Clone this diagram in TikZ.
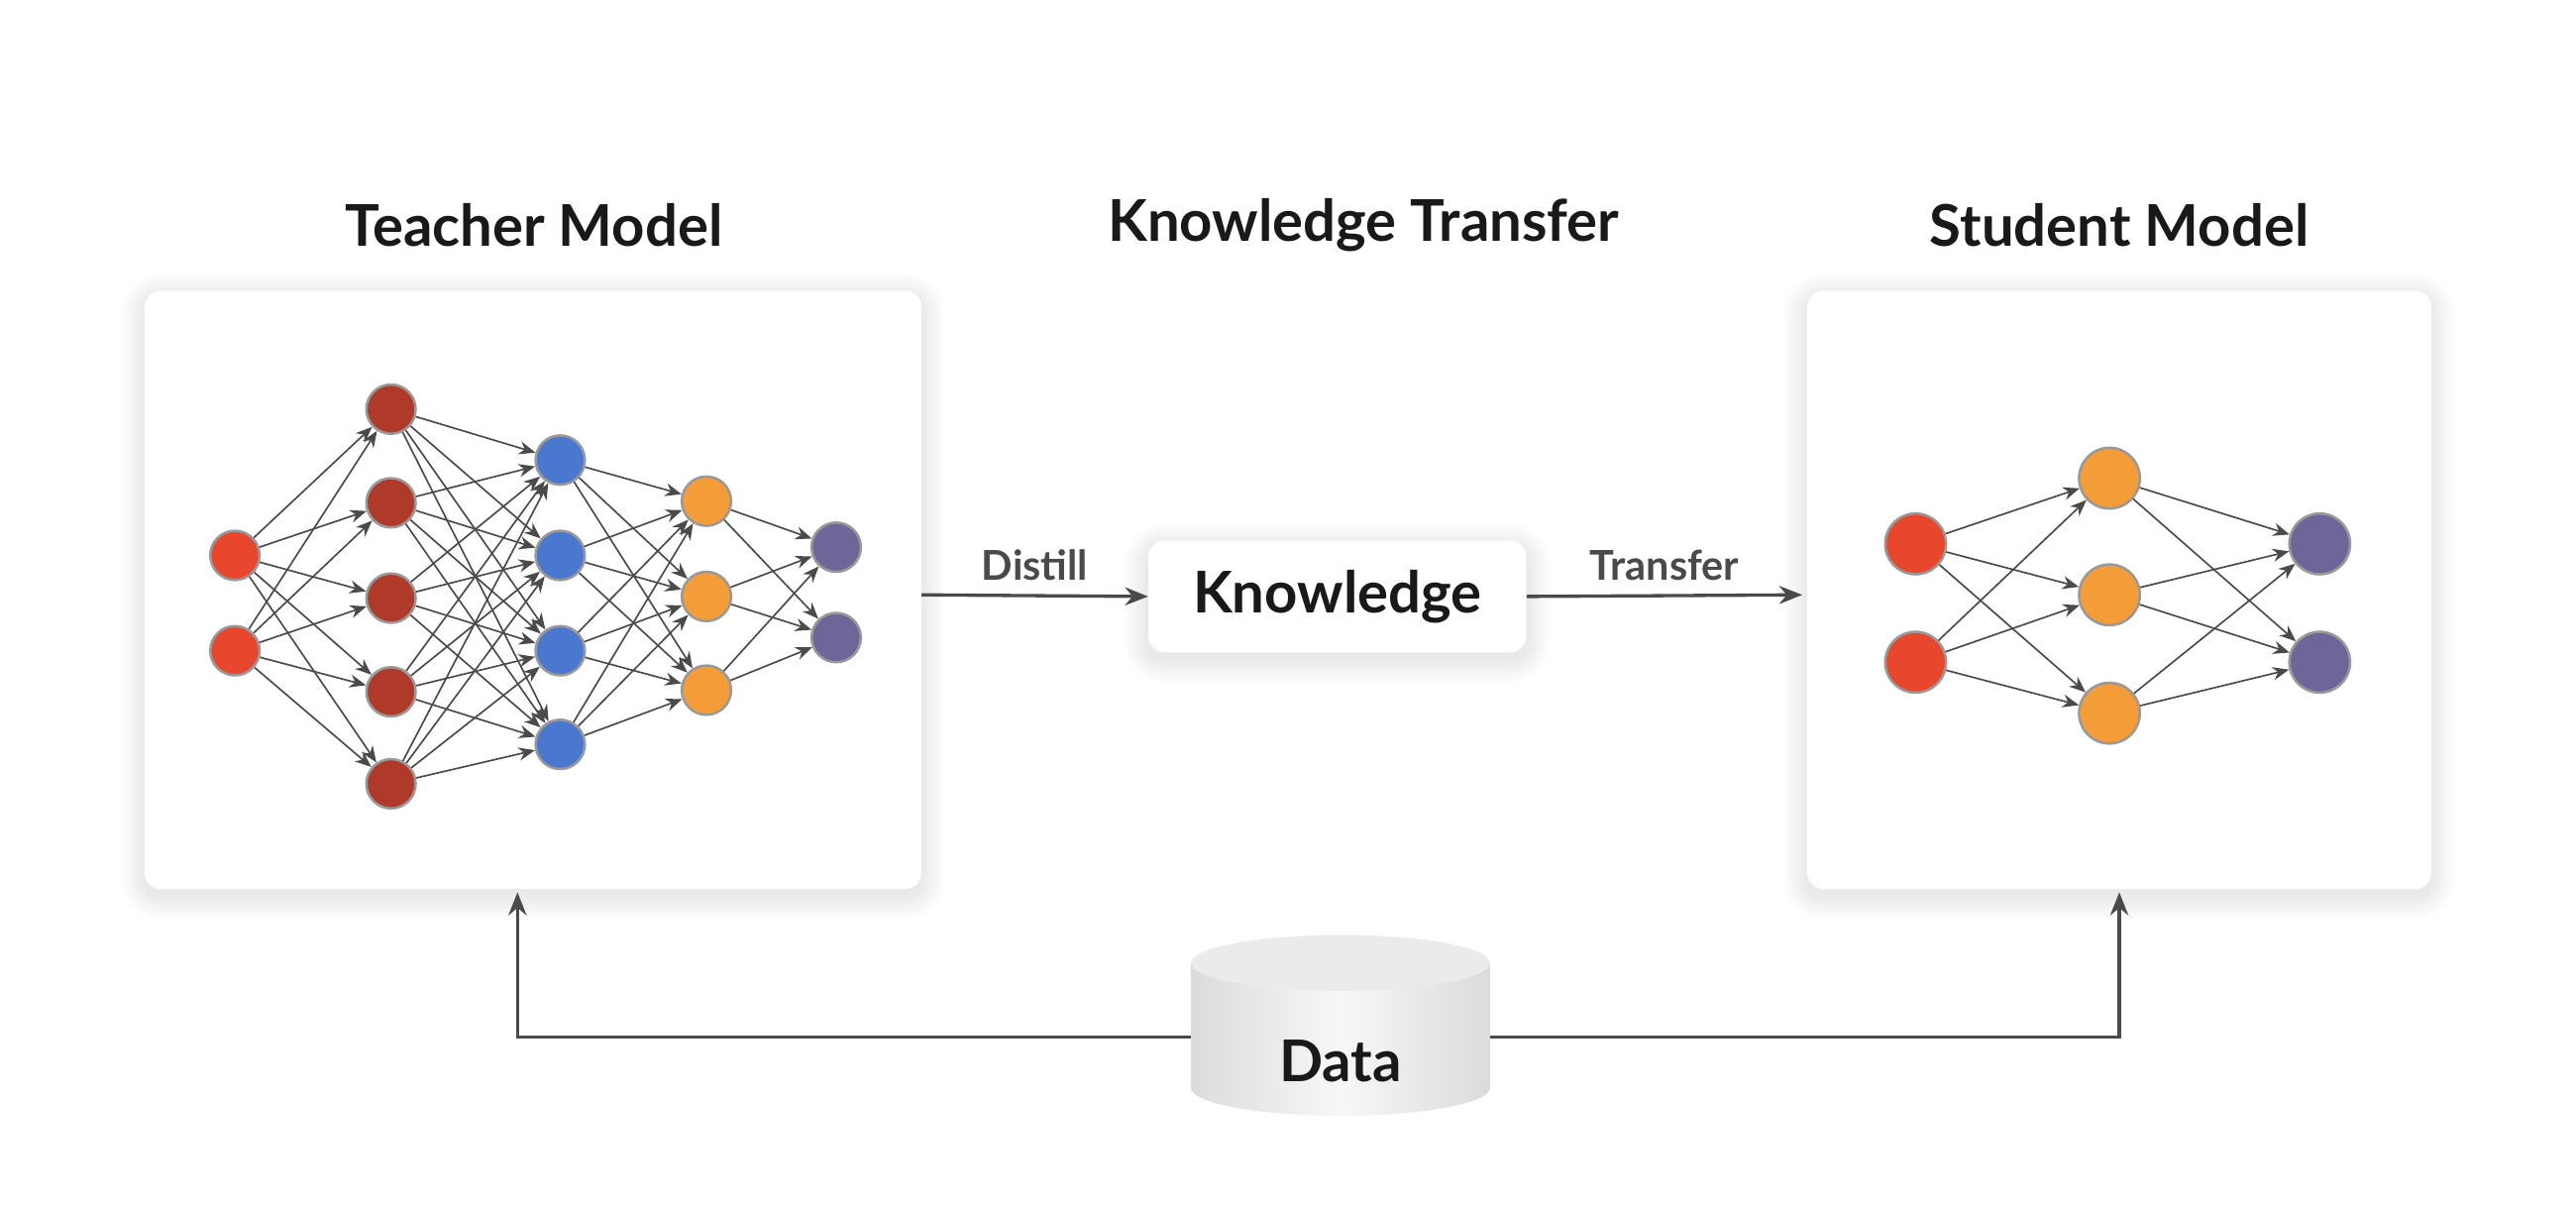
\documentclass[tikz,border=0pt]{standalone}
\usepackage{fontspec}
\setmainfont{Lato}
\usetikzlibrary{calc,arrows.meta}
\definecolor{cin}{HTML}{E8472E}
\definecolor{cdr}{HTML}{B03A2A}
\definecolor{cbl}{HTML}{4A78D0}
\definecolor{cor}{HTML}{F39C38}
\definecolor{cpu}{HTML}{6E6699}
\definecolor{cln}{HTML}{4A4A4A}
\newcommand{\softpanel}[3]{%
	\foreach \k in {14,12,...,2} \fill[black,opacity=0.012,rounded corners=10pt+\k pt] ($#1+(-\k,-\k+4)$) rectangle ($#2+(\k,\k+4)$);
	\fill[white,rounded corners=10pt] #1 rectangle #2;}
\begin{document}
\begin{tikzpicture}[x=1pt,y=-1pt,
title/.style={font=\fontsize{35}{37}\selectfont\bfseries,text=black!90},
neuron/.style={circle,draw=gray!80,line width=1.5pt,minimum size=30pt,inner sep=0},
bigneuron/.style={neuron,minimum size=37pt},
edge/.style={-{Stealth[length=10pt,width=8pt]},cln,line width=1pt},
flow/.style={-{Stealth[length=14pt,width=11pt]},cln,line width=2pt},
msg/.style={font=\fontsize{25}{27}\selectfont\bfseries,text=cln}]
	\useasboundingbox[fill=white] (0,0) rectangle (1568,735);
	% panels
	\softpanel{(88,177)}{(561,541)}{t}
	\softpanel{(1100,177)}{(1480,541)}{s}
	\softpanel{(699,329)}{(929,397)}{k}
	\node[title] at (325,137) (tt) {Teacher Model};
	\node[title] at (830,137) (kt) {Knowledge Transfer};
	\node[title] at (1290,137) (st) {Student Model};

	% teacher network
	\foreach \y [count=\i] in {338,396} \node[neuron,fill=cin] at (143,\y) (a\i) {};
	\foreach \y [count=\i] in {249,306,364,421,477} \node[neuron,fill=cdr] at (238,\y) (b\i) {};
	\foreach \y [count=\i] in {280,338,396,453} \node[neuron,fill=cbl] at (341,\y) (c\i) {};
	\foreach \y [count=\i] in {305,363,420} \node[neuron,fill=cor] at (430,\y) (d\i) {};
	\foreach \y [count=\i] in {333,388} \node[neuron,fill=cpu] at (509,\y) (e\i) {};
	\foreach \i in {1,2} \foreach \j in {1,...,5} \draw[edge] (a\i) -- (b\j);
	\foreach \i in {1,...,5} \foreach \j in {1,...,4} \draw[edge] (b\i) -- (c\j);
	\foreach \i in {1,...,4} \foreach \j in {1,2,3} \draw[edge] (c\i) -- (d\j);
	\foreach \i in {1,2,3} \foreach \j in {1,2} \draw[edge] (d\i) -- (e\j);

	% student network
	\foreach \y [count=\i] in {331,403} \node[bigneuron,fill=cin] at (1166,\y) (sa\i) {};
	\foreach \y [count=\i] in {291,362,434} \node[bigneuron,fill=cor] at (1284,\y) (sb\i) {};
	\foreach \y [count=\i] in {331,403} \node[bigneuron,fill=cpu] at (1412,\y) (sc\i) {};
	\foreach \i in {1,2} \foreach \j in {1,2,3} \draw[edge] (sa\i) -- (sb\j);
	\foreach \i in {1,2,3} \foreach \j in {1,2} \draw[edge] (sb\i) -- (sc\j);

	% knowledge
	\node[minimum width=230pt,minimum height=68pt,font=\fontsize{35}{37}\selectfont\bfseries,text=black!90] at (814,363) (kn) {Knowledge};
	\coordinate (tr) at (561,362);
	\coordinate (sl) at (1097,362);
	\draw[flow] (tr) -- node[msg,above=5pt] {Distill} (kn.west);
	\draw[flow] (kn.east) -- node[msg,above=5pt] {Transfer} (sl);

	% data
	\shade[left color=gray!28,right color=gray!28,middle color=gray!6] (725,586) -- (725,662) arc[start angle=180,end angle=0,x radius=91,y radius=17] -- (907,586) -- cycle;
	\fill[gray!16] (816,586) ellipse[x radius=91,y radius=17];
	\node[font=\fontsize{35}{37}\selectfont\bfseries,text=black!90] at (816,646) (data) {Data};
	\coordinate (tb) at (315,543);
	\coordinate (sb) at (1290,543);
	\draw[flow] (725,631) -| (tb);
	\draw[flow] (907,631) -| (sb);
\end{tikzpicture}
\end{document}
